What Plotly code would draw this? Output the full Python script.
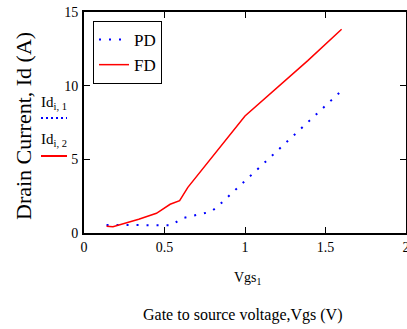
import plotly.graph_objects as go

# Data
vgs_pd = [0.14, 0.30, 0.54, 0.61, 0.79, 0.83, 1.60]
id_pd = [0.55, 0.52, 0.52, 1.00, 1.45, 1.80, 9.66]

vgs_fd = [0.14, 0.18, 0.34, 0.45, 0.535, 0.594, 0.645, 1.00, 1.39, 1.60]
id_fd = [0.45, 0.43, 0.93, 1.34, 1.95, 2.19, 3.10, 7.94, 11.70, 13.83]

x_ticks = [0, 0.5, 1, 1.5, 2]
x_tick_labels = ["0", "0.5", "1", "1.5", "2"]
y_ticks = [0, 5, 10, 15]
y_tick_labels = ["0", "5", "10", "15"]

SERIF = "Liberation Serif"
W, H = 407, 329
L, R, T, B = 84, 1, 12, 96
PW, PH = W - L - R, H - T - B


def px(x):
    return (x - L) / PW


def py(y):
    return (H - B - y) / PH


fig = go.Figure()
fig.add_trace(go.Scatter(x=vgs_pd, y=id_pd, mode="lines", name="PD",
                         line=dict(color="#0000ff", width=2, dash="2px,8px")))
fig.add_trace(go.Scatter(x=vgs_fd, y=id_fd, mode="lines", name="FD",
                         line=dict(color="#ff0000", width=1.5)))

fig.update_layout(
    width=W, height=H,
    margin=dict(l=L, r=R, t=T, b=B, pad=0, autoexpand=False),
    paper_bgcolor="white", plot_bgcolor="white",
    font=dict(family=SERIF, color="black", size=14),
    showlegend=True,
    legend=dict(x=px(93), y=py(21), xanchor="left", yanchor="top",
                bordercolor="black", borderwidth=1, bgcolor="white",
                font=dict(family=SERIF, size=17, color="black"),
                itemwidth=30, tracegroupgap=0),
)
fig.update_xaxes(range=[0, 2], tickvals=x_ticks, ticktext=x_tick_labels,
                 showgrid=False, zeroline=False, showline=True, linecolor="black",
                 linewidth=2, mirror="ticks", ticks="inside", ticklen=6,
                 tickcolor="black", tickfont=dict(family=SERIF, size=14),
                 automargin=False, ticklabeloverflow="allow")
fig.update_yaxes(range=[0, 15], tickvals=y_ticks, ticktext=y_tick_labels,
                 showgrid=False, zeroline=False, showline=True, linecolor="black",
                 linewidth=2, mirror="ticks", ticks="inside", ticklen=6,
                 tickcolor="black", tickfont=dict(family=SERIF, size=14),
                 ticklabelstandoff=1, automargin=False)

ann = [
    dict(text="Drain Current, Id (A)", x=px(24), y=py(126), textangle=-90,
         font=dict(family=SERIF, size=22)),
    dict(text="Gate to source voltage,Vgs (V)", x=px(243), y=py(315),
         font=dict(family=SERIF, size=16)),
    dict(text="Vgs<sub>1</sub>", x=px(248), y=py(278),
         font=dict(family=SERIF, size=14)),
    dict(text="Id<sub>i, 1</sub>", x=px(54), y=py(103),
         font=dict(family=SERIF, size=15)),
    dict(text="Id<sub>i, 2</sub>", x=px(54), y=py(140),
         font=dict(family=SERIF, size=15)),
]
for a in ann:
    fig.add_annotation(xref="paper", yref="paper", showarrow=False,
                       xanchor="center", yanchor="middle", **a)

fig.add_shape(type="line", xref="paper", yref="paper",
              x0=px(41), x1=px(67), y0=py(118), y1=py(118),
              line=dict(color="#0000ff", width=2, dash="2px,3px"))
fig.add_shape(type="line", xref="paper", yref="paper",
              x0=px(41), x1=px(67), y0=py(156), y1=py(156),
              line=dict(color="#ff0000", width=2))

fig.write_html("out.html",
               config={"displayModeBar": False},
               post_script="document.body.style.margin='0';"
                           "document.body.style.overflow='hidden';")
